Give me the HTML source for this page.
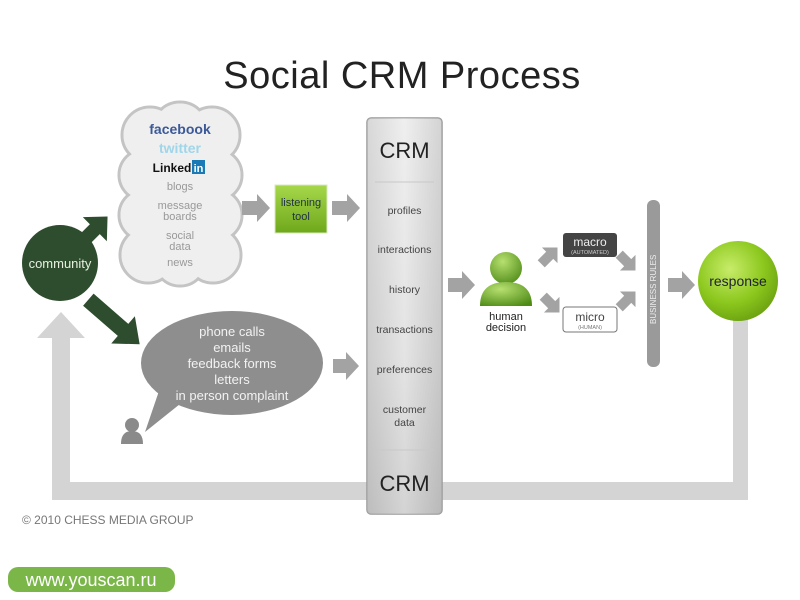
<!DOCTYPE html>
<html><head><meta charset="utf-8"><style>
html,body{margin:0;padding:0;background:#fff;}
svg{display:block;font-family:"Liberation Sans",sans-serif;}
</style></head><body>
<svg width="800" height="600" viewBox="0 0 800 600" xmlns="http://www.w3.org/2000/svg">
<defs>
<linearGradient id="crm" x1="0" x2="1" y1="0" y2="0">
<stop offset="0" stop-color="#bdbdbd"/><stop offset="0.5" stop-color="#ececec"/><stop offset="1" stop-color="#b5b5b5"/></linearGradient>
<linearGradient id="crm2" x1="0" x2="0" y1="0" y2="1">
<stop offset="0" stop-color="#f2f2f2"/><stop offset="0.6" stop-color="#dcdcdc"/><stop offset="1" stop-color="#bcbcbc"/></linearGradient>
<radialGradient id="resp" cx="0.4" cy="0.35" r="0.7">
<stop offset="0" stop-color="#c8ec6a"/><stop offset="0.6" stop-color="#8cc81e"/><stop offset="1" stop-color="#6aa010"/></radialGradient>
<linearGradient id="lt" x1="0" x2="0" y1="0" y2="1">
<stop offset="0" stop-color="#a6d84a"/><stop offset="1" stop-color="#6fa81c"/></linearGradient>
<radialGradient id="hum" cx="0.4" cy="0.3" r="0.8">
<stop offset="0" stop-color="#b7e070"/><stop offset="1" stop-color="#4d8a16"/></radialGradient>
<polygon id="sa" points="-11,-5 1,-5 1,-11 12,0 1,11 1,5 -11,5"/>
</defs>

<text x="402" y="88" font-size="38" fill="#222" text-anchor="middle" letter-spacing="0.5">Social CRM Process</text>

<!-- feedback loop -->
<g fill="#d4d4d4">
<rect x="52" y="482" width="696" height="18"/>
<rect x="733" y="318" width="15" height="182"/>
<rect x="52" y="335" width="18" height="165"/>
<polygon points="37,338 61,312 85,338"/>
</g>

<!-- cloud -->
<g fill="#efefef" stroke="#c4c4c4" stroke-width="3">
<circle cx="180" cy="130" r="28"/><circle cx="150" cy="135" r="28"/><circle cx="212" cy="135" r="28"/>
<circle cx="145" cy="175" r="26"/><circle cx="216" cy="175" r="26"/>
<circle cx="145" cy="215" r="26"/><circle cx="216" cy="215" r="26"/>
<circle cx="148" cy="255" r="28"/><circle cx="213" cy="255" r="28"/><circle cx="180" cy="260" r="26"/>
</g>
<g fill="#efefef">
<circle cx="180" cy="130" r="26.5"/><circle cx="150" cy="135" r="26.5"/><circle cx="212" cy="135" r="26.5"/>
<circle cx="145" cy="175" r="24.5"/><circle cx="216" cy="175" r="24.5"/>
<circle cx="145" cy="215" r="24.5"/><circle cx="216" cy="215" r="24.5"/>
<circle cx="148" cy="255" r="26.5"/><circle cx="213" cy="255" r="26.5"/><circle cx="180" cy="260" r="24.5"/>
<rect x="140" y="120" width="82" height="150"/>
</g>
<g text-anchor="middle">
<text x="180" y="134" font-size="14" font-weight="bold" fill="#3b5998">facebook</text>
<text x="180" y="153" font-size="14" font-weight="bold" fill="#9fd6ea">twitter</text>
<text x="172" y="172" font-size="12" font-weight="bold" fill="#111">Linked</text>
<rect x="192" y="160" width="13" height="14" fill="#1a7ab5"/>
<text x="198.5" y="172" font-size="11" font-weight="bold" fill="#fff">in</text>
<g fill="#999" font-size="11">
<text x="180" y="190">blogs</text>
<text x="180" y="209">message</text><text x="180" y="220">boards</text>
<text x="180" y="239">social</text><text x="180" y="250">data</text>
<text x="180" y="266">news</text>
</g></g>

<!-- gray arrows -->
<g fill="#a3a3a3">
<polygon points="242,201 257,201 257,194 270,208 257,222 257,215 242,215"/>
<polygon points="332,201 347,201 347,194 360,208 347,222 347,215 332,215"/>
<polygon points="333,359 346,359 346,352 359,366 346,380 346,373 333,373"/>
<polygon points="448,278 462,278 462,271 475,285 462,299 462,292 448,292"/>
<polygon points="668,278 682,278 682,271 695,285 682,299 682,292 668,292"/>
<use href="#sa" transform="translate(549,256) rotate(-45)"/>
<use href="#sa" transform="translate(551,304) rotate(45)"/>
<use href="#sa" transform="translate(627,262) rotate(45)"/>
<use href="#sa" transform="translate(627,300) rotate(-45)"/>
</g>

<!-- listening tool -->
<rect x="275" y="185" width="52" height="48" fill="url(#lt)" stroke="#d8e8c0" stroke-width="1"/>
<text x="301" y="206" font-size="11" fill="#234" text-anchor="middle">listening</text>
<text x="301" y="220" font-size="11" fill="#234" text-anchor="middle">tool</text>

<!-- CRM column -->
<rect x="367" y="118" width="75" height="396" rx="4" fill="url(#crm2)" stroke="#999" stroke-width="1.5"/>
<rect x="367" y="118" width="75" height="396" rx="4" fill="url(#crm)" opacity="0.5"/>
<g text-anchor="middle">
<text x="404.5" y="158" font-size="22" fill="#222">CRM</text>
<line x1="375" y1="182" x2="434" y2="182" stroke="#c8c8c8"/>
<g font-size="10.5" fill="#444">
<text x="404.5" y="214">profiles</text>
<text x="404.5" y="253">interactions</text>
<text x="404.5" y="293">history</text>
<text x="404.5" y="333">transactions</text>
<text x="404.5" y="373">preferences</text>
<text x="404.5" y="413">customer</text>
<text x="404.5" y="426">data</text>
</g>
<line x1="375" y1="450" x2="434" y2="450" stroke="#c8c8c8"/>
<text x="404.5" y="491" font-size="22" fill="#222">CRM</text>
</g>

<!-- community -->
<g fill="#2e4d2e">
<polygon points="-22,-7 4,-7 4,-17 22,0 4,17 4,7 -22,7" transform="translate(92,232) rotate(-45)"/>
<polygon points="-34,-8 12,-8 12,-18 34,0 12,18 12,8 -34,8" transform="translate(114,322) rotate(41)"/>
<circle cx="60" cy="263" r="38"/>
</g>
<text x="60" y="268" font-size="13" fill="#e6f0e0" text-anchor="middle">community</text>

<!-- speech bubble -->
<ellipse cx="232" cy="363" rx="91" ry="52" fill="#8e8e8e"/>
<polygon points="160,388 185,400 145,432" fill="#8e8e8e"/>
<g text-anchor="middle" fill="#f2f2f2" font-size="13">
<text x="232" y="336">phone calls</text>
<text x="232" y="352">emails</text>
<text x="232" y="368">feedback forms</text>
<text x="232" y="384">letters</text>
<text x="232" y="400">in person complaint</text>
</g>
<g fill="#8a8a8a">
<circle cx="132" cy="425" r="7"/>
<path d="M121,444 Q121,431 132,431 Q143,431 143,444 Z"/>
</g>

<!-- human decision -->
<circle cx="506" cy="268" r="16" fill="url(#hum)"/>
<path d="M480,306 Q480,282 506,282 Q532,282 532,306 Z" fill="url(#hum)"/>
<text x="506" y="320" font-size="11" fill="#222" text-anchor="middle">human</text>
<text x="506" y="331" font-size="11" fill="#222" text-anchor="middle">decision</text>

<!-- macro / micro -->
<rect x="563" y="233" width="54" height="24" rx="3" fill="#444"/>
<text x="590" y="246" font-size="12" fill="#eee" text-anchor="middle">macro</text>
<text x="590" y="254" font-size="5.5" fill="#ccc" text-anchor="middle">(AUTOMATED)</text>
<rect x="563" y="307" width="54" height="25" rx="3" fill="#fff" stroke="#777"/>
<text x="590" y="321" font-size="12" fill="#444" text-anchor="middle">micro</text>
<text x="590" y="329" font-size="5.5" fill="#777" text-anchor="middle">(HUMAN)</text>

<!-- business rules -->
<rect x="647" y="200" width="13" height="167" rx="6" fill="#9a9a9a"/>
<text transform="translate(656,324) rotate(-90)" font-size="8" fill="#eee">BUSINESS RULES</text>

<!-- response -->
<circle cx="738" cy="281" r="40" fill="url(#resp)"/>
<text x="738" y="286" font-size="14" fill="#223" text-anchor="middle">response</text>

<text x="22" y="524" font-size="12" fill="#777">© 2010 CHESS MEDIA GROUP</text>
<rect x="8" y="567" width="167" height="25" rx="10" fill="#7ab648"/>
<text x="91" y="586" font-size="18" fill="#fff" text-anchor="middle">www.youscan.ru</text>
</svg>
</body></html>
